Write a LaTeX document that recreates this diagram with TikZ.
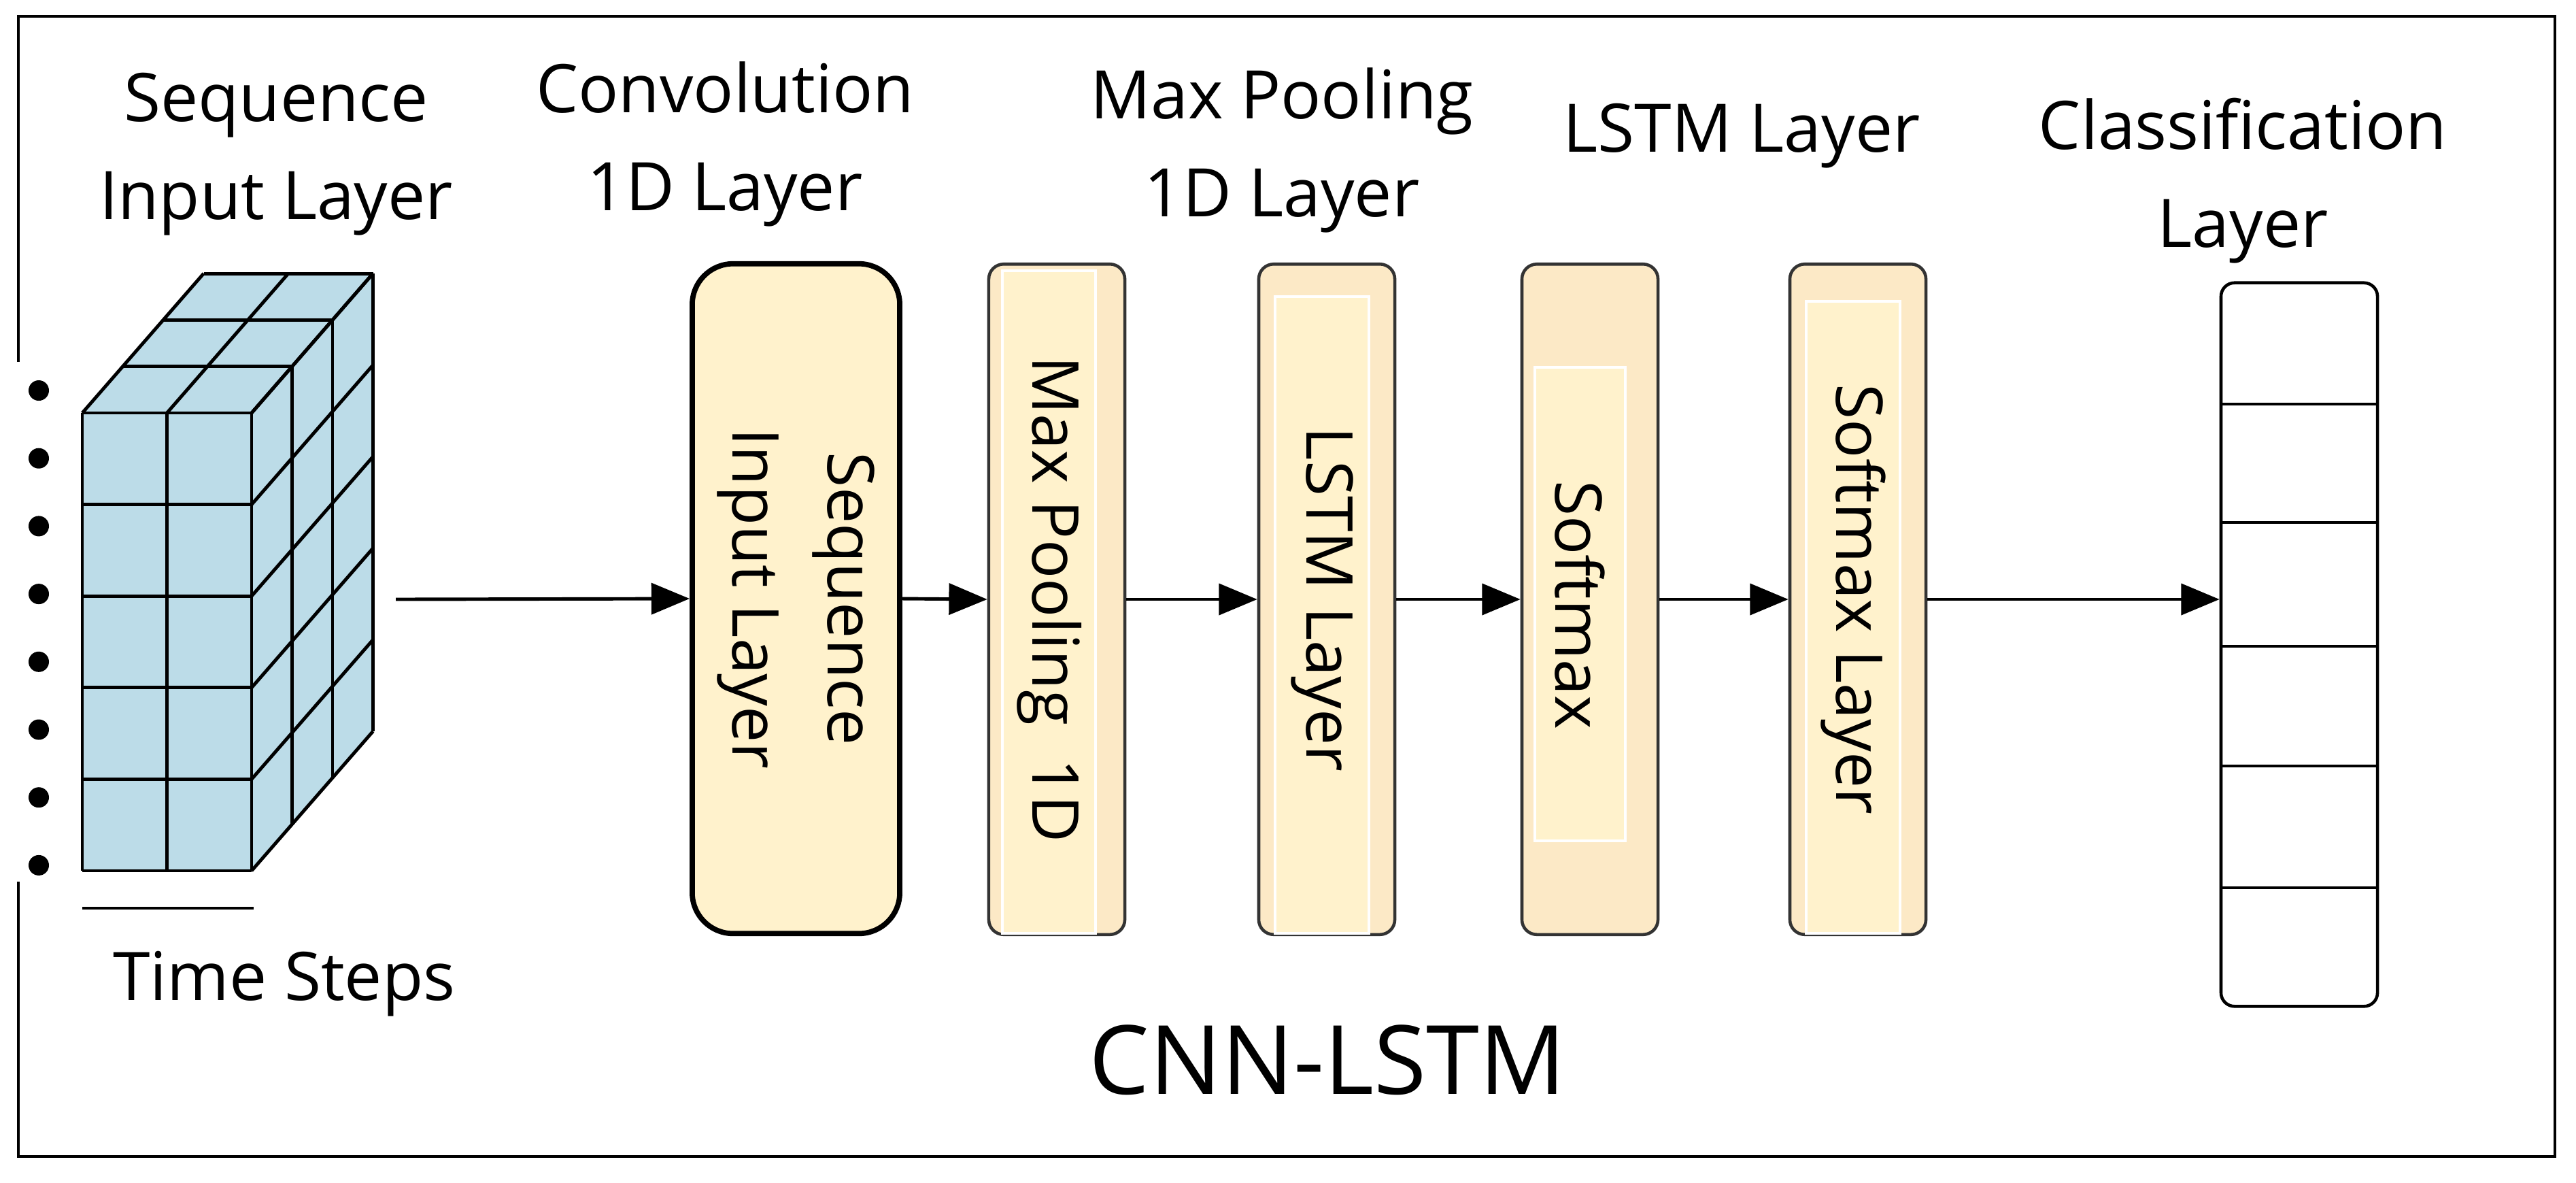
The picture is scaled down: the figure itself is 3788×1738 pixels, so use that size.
\documentclass[tikz,border=0pt]{standalone}
\usepackage{fontspec}
\setmainfont{Open Sans}
\usetikzlibrary{arrows.meta}
\definecolor{cube}{HTML}{BCDCE8}
\definecolor{outerf}{HTML}{FCE9C6}
\definecolor{innerf}{HTML}{FFF2CC}
\definecolor{edge}{HTML}{333333}
\begin{document}
\begin{tikzpicture}[x=0.01cm,y=-0.01cm,
  ttl/.style={font=\fontsize{28}{41}\selectfont, align=center, inner sep=0},
  btxt/.style={font=\fontsize{27}{40}\selectfont, align=center, rotate=-90, inner sep=0},
  layer/.style={draw=edge, line width=1.3pt, fill=outerf, rounded corners=0.22cm, minimum width=2cm, minimum height=9.85cm, inner sep=0},
  inner/.style={draw=white, line width=1.2pt, fill=innerf},
  arr/.style={line width=1.4pt, -{Triangle[length=16pt,width=13pt]}},
  cl/.style={line width=1.4pt, line join=round}]
\useasboundingbox (0,0) rectangle (3788,1738);
% frame with gap
\draw[line width=1.2pt] (27,532) -- (27,24) -- (3757,24) -- (3757,1700) -- (27,1700) -- (27,1296);
% cube
\fill[cube] (121,607) -- (299.5,402) -- (548.5,402) -- (548.5,1075) -- (370,1280) -- (121,1280) -- cycle;
\foreach \k in {0,1,2,3} {
  \draw[cl] ({121+59.5*\k},{607-68.3*\k}) -- ({370+59.5*\k},{607-68.3*\k});
  \draw[cl] ({370+59.5*\k},{607-68.3*\k}) -- ({370+59.5*\k},{1280-68.3*\k});
}
\foreach \x in {121,245.5,370} \draw[cl] (\x,607) -- (\x+178.5,402);
\foreach \x in {121,245.5} \draw[cl] (\x,607) -- (\x,1280);
\foreach \y in {607,741.6,876.2,1010.8,1145.4,1280} {
  \draw[cl] (121,\y) -- (370,\y);
  \draw[cl] (370,\y) -- (548.5,\y-205);
}
\foreach \i in {0,...,7} \fill (57,{574+99.7*\i}) circle (0.15cm);
\draw[line width=1.4pt] (121,1335) -- (373,1335);
\node[ttl] (ts) at (418,1446) {Time Steps};
\coordinate (cubeout) at (582,881);
% titles
\node[ttl] (t1) at (406,227) {Sequence\\Input Layer};
\node[ttl] (t2) at (1066,212) {Convolution\\1D Layer};
\node[ttl] (t3) at (1885,221) {Max Pooling\\1D Layer};
\node[ttl] (t4) at (2561,200) {LSTM Layer};
\node[ttl] (t5) at (3298,266) {Classification\\Layer};
% conv box
\node[draw=black, line width=2.2pt, fill=innerf, rounded corners=0.6cm, minimum width=3.05cm, minimum height=9.84cm, inner sep=0] (conv) at (1170.5,880) {};
\node[btxt] at (conv.center) {Sequence\\Input Layer};
% layers
\node[layer] (b1) at (1554,881) {};
\draw[inner] (1474,398) rectangle (1611,1372);
\node[btxt] at (1543,881) {Max Pooling\ \ 1D};
\node[layer] (b2) at (1951,881) {};
\draw[inner] (1875,436) rectangle (2013,1372);
\node[btxt] at (1944,881) {LSTM Layer};
\node[layer] (b3) at (2338,881) {};
\draw[inner] (2257,540) rectangle (2390,1236);
\node[btxt] at (2323,889) {Softmax};
\node[layer] (b4) at (2732,881) {};
\draw[inner] (2656,443) rectangle (2794,1372);
\node[btxt] at (2725,881) {Softmax Layer};
% classification
\node[draw=black, line width=1.3pt, rounded corners=0.2cm, minimum width=2.3cm, minimum height=10.63cm, inner sep=0] (cls) at (3381,947.5) {};
\foreach \y in {594,768,950,1126,1305} \draw[line width=1.3pt] (3266,\y) -- (3496,\y);
% arrows
\draw[arr] (cubeout) -- (conv.west);
\draw[arr] (conv.east) -- (b1.west);
\draw[arr] (b1.east) -- (b2.west);
\draw[arr] (b2.east) -- (b3.west);
\draw[arr] (b3.east) -- (b4.west);
\draw[arr] (b4.east) -- (cls.west |- b4.east);
\node[font=\fontsize{40}{48}\selectfont, inner sep=0] (title) at (1952,1558) {CNN-LSTM};
\end{tikzpicture}
\end{document}
